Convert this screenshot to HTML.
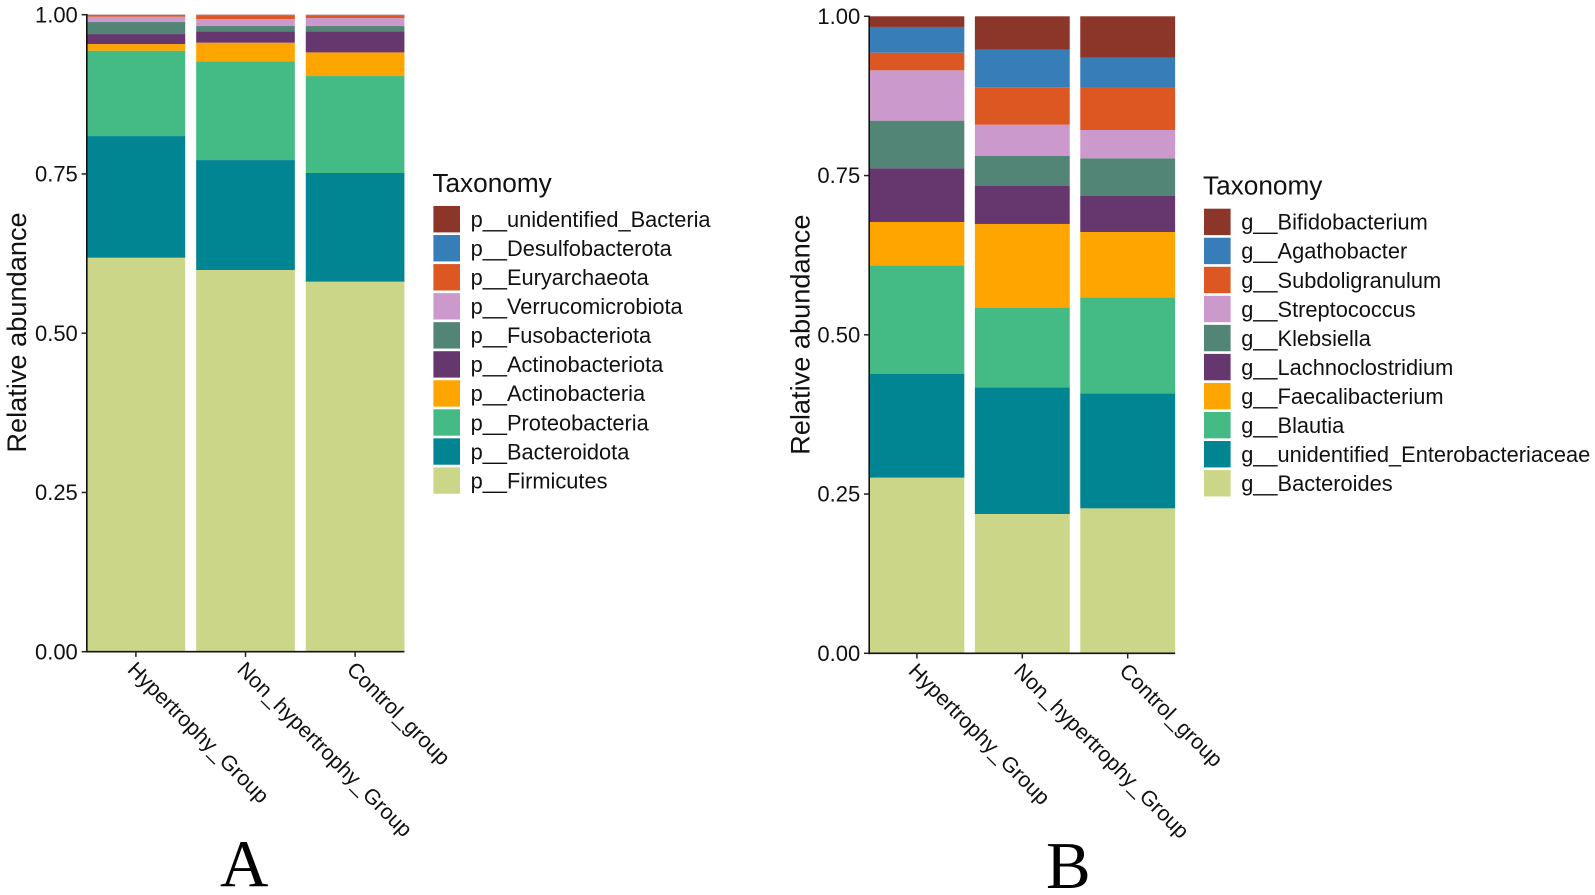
<!DOCTYPE html>
<html lang="en">
<head>
<meta charset="utf-8">
<title>Relative abundance by taxonomy</title>
<style>
  html, body { margin: 0; padding: 0; background: #ffffff; }
  body { width: 1595px; height: 895px; overflow: hidden; }
  svg { display: block; filter: blur(0.35px); }
  text { font-family: "Liberation Sans", Arial, sans-serif; fill: #111111; }
  .panel-letter { font-family: "Liberation Serif", "Times New Roman", serif; fill: #000; }
</style>
</head>
<body>
<svg id="figure" xmlns="http://www.w3.org/2000/svg" width="1595" height="895" viewBox="0 0 1595 895">
  <rect x="0" y="0" width="1595" height="895" fill="#ffffff"></rect>
  <g id="panel-a"></g>
  <g id="panel-b"></g>
  <text class="panel-letter" x="220" y="886" font-size="67">A</text>
  <text class="panel-letter" x="1046" y="888" font-size="67">B</text>
</svg>
<script>
// Shared categories and axis labels
const groupLabels = ['Hypertrophy_ Group', 'Non_hypertrophy_ Group', 'Control_group'];
const yTickValues = [0, 0.25, 0.5, 0.75, 1];
const yTickLabels = ['0.00', '0.25', '0.50', '0.75', '1.00'];
const yAxisTitle = 'Relative abundance';
const legendTitle = 'Taxonomy';
const seriesColors = ['#cbd688', '#028593', '#44ba84', '#ffa500', '#66366f', '#528575', '#cc99cc', '#dc5722', '#377db8', '#8b3629'];

// Panel A: phylum level, listed bottom of stack to top
const phylumNames = ['p__Firmicutes', 'p__Bacteroidota', 'p__Proteobacteria', 'p__Actinobacteria', 'p__Actinobacteriota', 'p__Fusobacteriota', 'p__Verrucomicrobiota', 'p__Euryarchaeota', 'p__Desulfobacterota', 'p__unidentified_Bacteria'];
const firmicutes = [0.6185, 0.5992, 0.5809];
const bacteroidota = [0.1910, 0.1726, 0.1706];
const proteobacteria = [0.1340, 0.1549, 0.1522];
const actinobacteria = [0.0104, 0.0294, 0.0371];
const actinobacteriota = [0.0157, 0.0177, 0.0330];
const fusobacteriota = [0.0189, 0.0084, 0.0084];
const verrucomicrobiota = [0.0084, 0.0110, 0.0126];
const euryarchaeota = [0.0011, 0.0052, 0.0042];
const desulfobacterota = [0.0013, 0.0011, 0.0007];
const unidentifiedBacteria = [0.0007, 0.0005, 0.0003];
const phylumSeries = [firmicutes, bacteroidota, proteobacteria, actinobacteria, actinobacteriota, fusobacteriota, verrucomicrobiota, euryarchaeota, desulfobacterota, unidentifiedBacteria];

// Panel B: genus level, listed bottom of stack to top
const genusNames = ['g__Bacteroides', 'g__unidentified_Enterobacteriaceae', 'g__Blautia', 'g__Faecalibacterium', 'g__Lachnoclostridium', 'g__Klebsiella', 'g__Streptococcus', 'g__Subdoligranulum', 'g__Agathobacter', 'g__Bifidobacterium'];
const bacteroides = [0.2758, 0.2187, 0.2276];
const unidentifiedEnterobacteriaceae = [0.1632, 0.1989, 0.1806];
const blautia = [0.1701, 0.1251, 0.1507];
const faecalibacterium = [0.0680, 0.1313, 0.1025];
const lachnoclostridium = [0.0842, 0.0596, 0.0565];
const klebsiella = [0.0749, 0.0471, 0.0592];
const streptococcus = [0.0790, 0.0492, 0.0444];
const subdoligranulum = [0.0277, 0.0586, 0.0675];
const agathobacter = [0.0404, 0.0592, 0.0461];
const bifidobacterium = [0.0167, 0.0523, 0.0649];
const genusSeries = [bacteroides, unidentifiedEnterobacteriaceae, blautia, faecalibacterium, lachnoclostridium, klebsiella, streptococcus, subdoligranulum, agathobacter, bifidobacterium];

const SVG_NS = 'http://www.w3.org/2000/svg';

function make(parent, tag, attrs, content) {
  const el = document.createElementNS(SVG_NS, tag);
  Object.keys(attrs).forEach(function (k) { el.setAttribute(k, attrs[k]); });
  if (content !== undefined) el.textContent = content;
  parent.appendChild(el);
  return el;
}

function slug(s) {
  return s.replace(/[^A-Za-z0-9]+/g, '-').replace(/^-|-$/g, '').toLowerCase();
}

function drawPanel(root, layout, names, series) {
  const yScale = function (v) { return layout.y0 - v * layout.ySpan; };
  const xCenter = function (i) { return layout.xFirst + i * layout.xStep; };
  const barWidth = layout.xStep * 0.9;

  // stacked bars
  groupLabels.forEach(function (group, g) {
    let cumulative = 0;
    series.forEach(function (values, s) {
      const bottom = cumulative;
      cumulative += values[g];
      const bar = make(root, 'rect', {
        x: xCenter(g) - barWidth / 2,
        y: yScale(cumulative),
        width: barWidth,
        height: yScale(bottom) - yScale(cumulative),
        fill: seriesColors[s]
      });
      
      
    });
  });

  // y axis
  const yLine = make(root, 'line', { x1: layout.axisX, x2: layout.axisX, y1: yScale(1) - 0.7, y2: yScale(0) + 0.8, stroke: '#111', 'stroke-width': 1.6 });
  
  
  yTickValues.forEach(function (v, i) {
    const tick = make(root, 'line', { x1: layout.axisX - 5.2, x2: layout.axisX, y1: yScale(v), y2: yScale(v), stroke: '#222', 'stroke-width': 1.5 });
    
    
    const label = make(root, 'text', { x: layout.axisX - 9, y: yScale(v) + 7.6, 'text-anchor': 'end', 'font-size': 22 }, yTickLabels[i]);
    
    
  });
  const title = make(root, 'text', {
    transform: 'translate(' + layout.yTitleX + ',' + layout.yTitleY + ') rotate(-90)',
    'text-anchor': 'middle', 'font-size': 27.2
  }, yAxisTitle);
  
  

  // x axis
  const xLine = make(root, 'line', { x1: layout.axisX - 0.8, x2: xCenter(2) + barWidth / 2, y1: yScale(0), y2: yScale(0), stroke: '#111', 'stroke-width': 1.6 });
  
  
  groupLabels.forEach(function (group, g) {
    const tick = make(root, 'line', { x1: xCenter(g), x2: xCenter(g), y1: yScale(0), y2: yScale(0) + 5.2, stroke: '#222', 'stroke-width': 1.5 });
    
    
    const lx = xCenter(g) - 9.5;
    const ly = yScale(0) + 19;
    const label = make(root, 'text', { transform: 'translate(' + lx + ',' + ly + ') rotate(45)', 'font-size': 21.4, 'word-spacing': '-4.5px' }, group);
    
    
  });

  // legend
  const legendHeading = make(root, 'text', { x: layout.legendX - 1, y: layout.legendTitleY, 'font-size': 26.2 }, legendTitle);
  
  
  for (let s = names.length - 1; s >= 0; s--) {
    const row = names.length - 1 - s;
    const top = layout.legendY + row * 29.04;
    const swatch = make(root, 'rect', { x: layout.legendX, y: top, width: 26.6, height: 26.4, fill: seriesColors[s] });
    
    
    const entry = make(root, 'text', { x: layout.legendX + 37.2, y: top + 21, 'font-size': 21.8 }, names[s]);
    
    
  }
}

drawPanel(document.getElementById('panel-a'), {
  y0: 651.7, ySpan: 637, xFirst: 135.9, xStep: 109.6, axisX: 86.8,
  yTitleX: 26, yTitleY: 332.5, legendX: 433.4, legendY: 206, legendTitleY: 192
}, phylumNames, phylumSeries);

drawPanel(document.getElementById('panel-b'), {
  y0: 653.3, ySpan: 637, xFirst: 916.9, xStep: 105.4, axisX: 869.2,
  yTitleX: 809.3, yTitleY: 334.7, legendX: 1204, legendY: 208.7, legendTitleY: 194.3
}, genusNames, genusSeries);
</script>
</body>
</html>
